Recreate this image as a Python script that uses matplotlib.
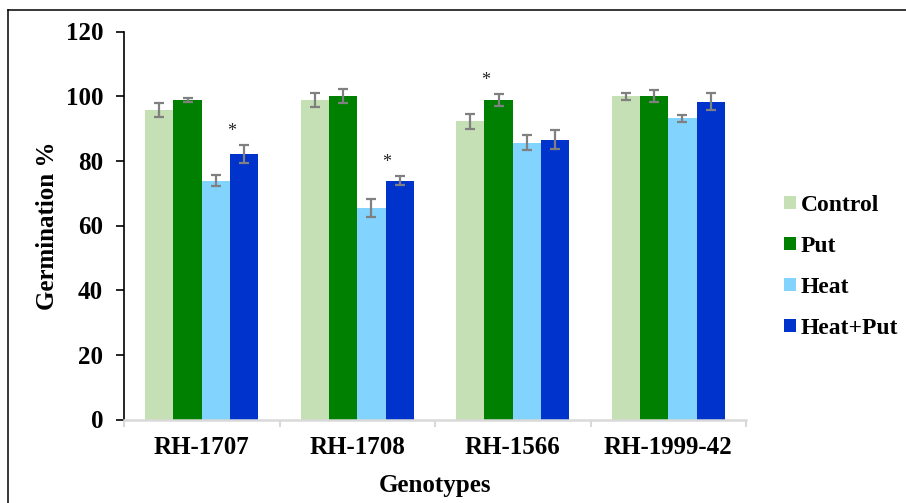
import matplotlib
matplotlib.use("Agg")
import matplotlib.pyplot as plt
from matplotlib.lines import Line2D
import numpy as np

plt.rcParams['font.family'] = ['Liberation Serif', 'DejaVu Serif']
plt.rcParams['font.weight'] = 'bold'

genotypes = ["RH-1707", "RH-1708", "RH-1566", "RH-1999-42"]
series = ["Control", "Put", "Heat", "Heat+Put"]
control = [95.7, 98.8, 92.3, 100.0]
put = [98.8, 100.0, 98.8, 100.0]
heat = [73.9, 65.5, 85.6, 93.2]
heat_put = [82.1, 73.9, 86.5, 98.3]
control_err = [2.1, 2.05, 2.3, 1.1]
put_err = [0.6, 2.2, 1.75, 1.8]
heat_err = [1.7, 2.8, 2.3, 1.1]
heat_put_err = [2.7, 1.4, 2.9, 2.6]
# significance marks: (genotype index, series index)
stars = [(0, 3), (1, 3), (2, 1)]
yticks = [0, 20, 40, 60, 80, 100, 120]

colors = ["#C5E0B4", "#008000", "#83D3FF", "#0033CC"]
values = [control, put, heat, heat_put]
errs = [control_err, put_err, heat_err, heat_put_err]

FS = 18

fig = plt.figure(figsize=(9.06, 5.03), dpi=100)
ax = fig.add_axes([124/906, 1-419.5/503, 622/906, 388/503])

x = np.arange(len(genotypes))
w = 0.182
for i, (name, vals, e, c) in enumerate(zip(series, values, errs, colors)):
    pos = x + (i - 1.5) * w
    ax.bar(pos, vals, width=w, color=c, label=name, zorder=2)
    ax.errorbar(pos, vals, yerr=e, fmt='none', ecolor='#808080',
                elinewidth=1.6, capsize=3.8, capthick=1.6, zorder=3)

for gi, si in stars:
    pos = x[gi] + (si - 1.5) * w - 0.45 * w
    top = values[si][gi] + errs[si][gi]
    ax.text(pos, top + 4.3, "*", ha='center', va='center', fontsize=13,
            color='#222222', fontweight='normal')

ax.set_xlim(-0.5, len(genotypes) - 0.5)
ax.set_ylim(0, 120)
ax.set_yticks(yticks)
ax.set_yticklabels([str(t) for t in yticks], fontsize=FS, fontweight='bold')
ax.set_xticks(x)
ax.set_xticklabels(genotypes, fontsize=FS, fontweight='bold')
ax.set_xticks(np.arange(len(genotypes) + 1) - 0.5, minor=True)
ax.tick_params(axis='x', which='major', length=0, pad=12)
ax.tick_params(axis='x', which='minor', length=5, width=1.5, color='#D9D9D9', direction='out')
ax.tick_params(axis='y', length=6, width=1.2, color='black', pad=9)

for s in ['top', 'right']:
    ax.spines[s].set_visible(False)
ax.spines['left'].set_color('black')
ax.spines['left'].set_linewidth(1.2)
ax.spines['bottom'].set_color('#D9D9D9')
ax.spines['bottom'].set_linewidth(1.8)

ax.set_ylabel("Germination %", fontsize=FS, fontweight='bold', labelpad=5)
ax.set_xlabel("Genotypes", fontsize=FS, fontweight='bold', labelpad=11)

leg = ax.legend(loc='center left', bbox_to_anchor=(784/906, 1-267/503),
                bbox_transform=fig.transFigure, frameon=False,
                prop={'size': 17, 'weight': 'bold'}, handlelength=0.5,
                handleheight=0.5, handletextpad=0.2, labelspacing=0.85,
                borderaxespad=0, borderpad=0)

fx = 8/906
fy = 1 - 10/503
fig.add_artist(Line2D([fx, fx], [0, fy], transform=fig.transFigure, color='black', lw=1.1))
fig.add_artist(Line2D([fx, 1], [fy, fy], transform=fig.transFigure, color='black', lw=1.1))

fig.savefig("out.png", dpi=100)
